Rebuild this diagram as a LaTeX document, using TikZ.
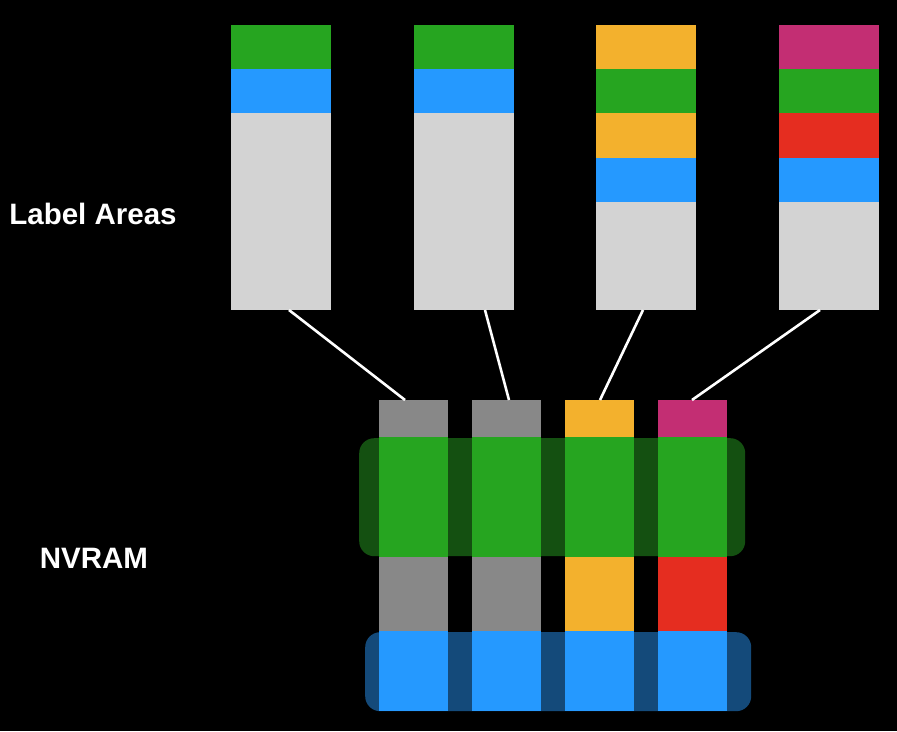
\documentclass[tikz,border=0pt]{standalone}
\usepackage{fontspec}
\setmainfont{Liberation Sans}
\definecolor{cgreen}{RGB}{38,165,32}
\definecolor{cblue}{RGB}{37,153,255}
\definecolor{clgray}{RGB}{211,211,211}
\definecolor{cgray}{RGB}{136,136,136}
\definecolor{corange}{RGB}{243,177,45}
\definecolor{cmag}{RGB}{195,46,115}
\definecolor{cred}{RGB}{229,45,32}
\definecolor{bandgreen}{RGB}{20,80,17}
\definecolor{bandblue}{RGB}{20,74,122}
\begin{document}
\begin{tikzpicture}[x=1pt,y=-1pt,
  seg/.style={rectangle, inner sep=0pt, outer sep=0pt, anchor=north west, draw=none},
  topseg/.style={seg, minimum width=100pt},
  nvseg/.style={seg, minimum width=69pt},
  band/.style={rectangle, rounded corners=15pt, inner sep=0pt, anchor=north west, draw=none},
  conn/.style={draw=white, line width=2.6pt},
  lbl/.style={text=white, font=\fontsize{29.5}{32}\selectfont\bfseries, inner sep=0pt}]
\fill[black] (0,0) rectangle (897,731);
\useasboundingbox (0,0) rectangle (897,731);
% top column 1
\node[topseg, fill=cgreen, minimum height=44pt] (a1) at (231,25) {};
\node[topseg, fill=cblue, minimum height=44pt] (a2) at (231,69) {};
\node[topseg, fill=clgray, minimum height=197pt] (a3) at (231,113) {};
% top column 2
\node[topseg, fill=cgreen, minimum height=44pt] (b1) at (414,25) {};
\node[topseg, fill=cblue, minimum height=44pt] (b2) at (414,69) {};
\node[topseg, fill=clgray, minimum height=197pt] (b3) at (414,113) {};
% top column 3
\node[topseg, fill=corange, minimum height=44pt] (c1) at (596,25) {};
\node[topseg, fill=cgreen, minimum height=44pt] (c2) at (596,69) {};
\node[topseg, fill=corange, minimum height=45pt] (c3) at (596,113) {};
\node[topseg, fill=cblue, minimum height=44pt] (c4) at (596,158) {};
\node[topseg, fill=clgray, minimum height=108pt] (c5) at (596,202) {};
% top column 4
\node[topseg, fill=cmag, minimum height=44pt] (d1) at (779,25) {};
\node[topseg, fill=cgreen, minimum height=44pt] (d2) at (779,69) {};
\node[topseg, fill=cred, minimum height=45pt] (d3) at (779,113) {};
\node[topseg, fill=cblue, minimum height=44pt] (d4) at (779,158) {};
\node[topseg, fill=clgray, minimum height=108pt] (d5) at (779,202) {};
% bands
\node[band, fill=bandgreen, minimum width=386pt, minimum height=118pt] (gband) at (359,438) {};
\node[band, fill=bandblue, minimum width=386pt, minimum height=79pt] (bband) at (365,632) {};
% NVRAM columns
\node[nvseg, fill=cgray, minimum height=37pt] (n1t) at (379,400) {};
\node[nvseg, fill=cgreen, minimum height=120pt] (n1g) at (379,437) {};
\node[nvseg, fill=cgray, minimum height=74pt] (n1m) at (379,557) {};
\node[nvseg, fill=cblue, minimum height=80pt] (n1b) at (379,631) {};
\node[nvseg, fill=cgray, minimum height=37pt] (n2t) at (472,400) {};
\node[nvseg, fill=cgreen, minimum height=120pt] (n2g) at (472,437) {};
\node[nvseg, fill=cgray, minimum height=74pt] (n2m) at (472,557) {};
\node[nvseg, fill=cblue, minimum height=80pt] (n2b) at (472,631) {};
\node[nvseg, fill=corange, minimum height=37pt] (n3t) at (565,400) {};
\node[nvseg, fill=cgreen, minimum height=120pt] (n3g) at (565,437) {};
\node[nvseg, fill=corange, minimum height=74pt] (n3m) at (565,557) {};
\node[nvseg, fill=cblue, minimum height=80pt] (n3b) at (565,631) {};
\node[nvseg, fill=cmag, minimum height=37pt] (n4t) at (658,400) {};
\node[nvseg, fill=cgreen, minimum height=120pt] (n4g) at (658,437) {};
\node[nvseg, fill=cred, minimum height=74pt] (n4m) at (658,557) {};
\node[nvseg, fill=cblue, minimum height=80pt] (n4b) at (658,631) {};
% connectors
\draw[conn] ([xshift=8pt]a3.south) -- ([xshift=-8.5pt]n1t.north);
\draw[conn] ([xshift=21pt]b3.south) -- ([xshift=2.5pt]n2t.north);
\draw[conn] ([xshift=-3pt]c5.south) -- ([xshift=0.5pt]n3t.north);
\draw[conn] ([xshift=-9pt]d5.south) -- ([xshift=-0.5pt]n4t.north);
% labels
\node[lbl] (lab) at (93,214) {Label Areas};
\node[lbl] (nv) at (94,558) {NVRAM};
\end{tikzpicture}
\end{document}
